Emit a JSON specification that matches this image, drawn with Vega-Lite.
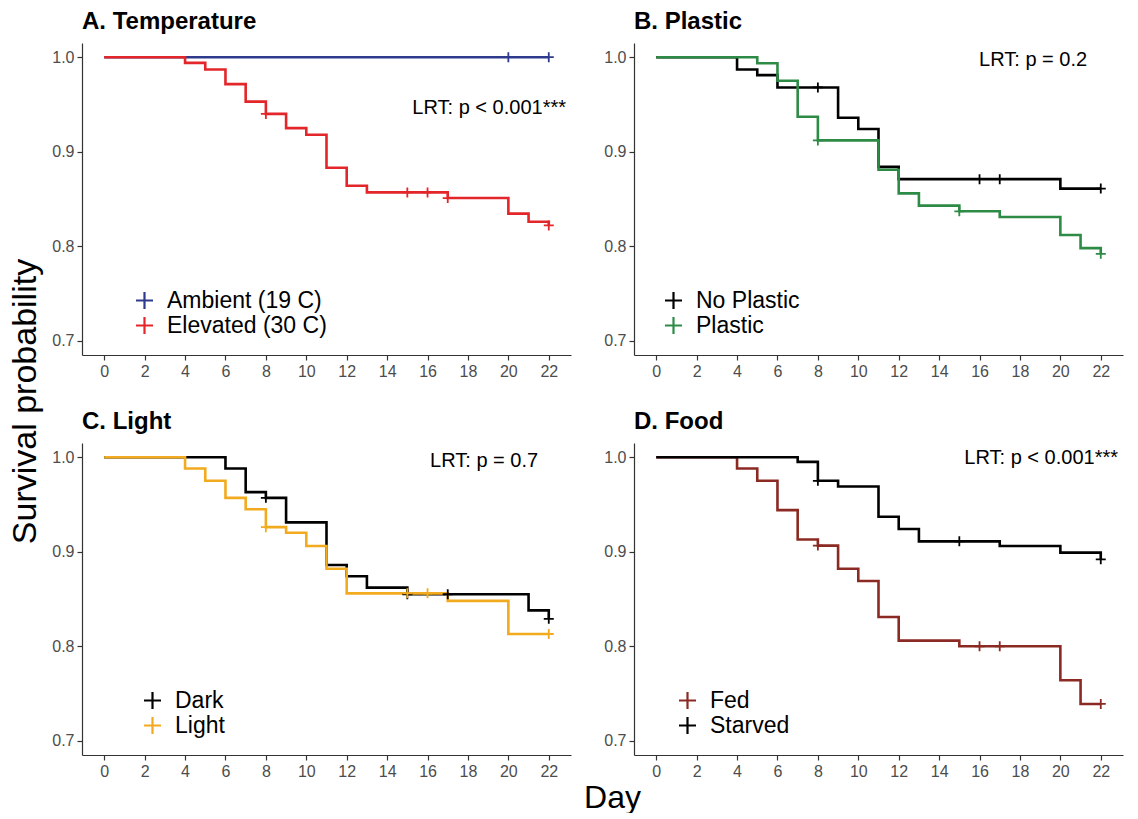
{
  "$schema": "https://vega.github.io/schema/vega-lite/v6.json",
  "padding": {"left": 8, "top": 10, "right": 5, "bottom": 0},
  "datasets": {
    "curves": [
      {"panel": "A", "group": "Ambient (19 C)", "day": 0, "surv": 1},
      {"panel": "A", "group": "Ambient (19 C)", "day": 22, "surv": 1},
      {"panel": "A", "group": "Elevated (30 C)", "day": 0, "surv": 1},
      {"panel": "A", "group": "Elevated (30 C)", "day": 4, "surv": 0.994},
      {"panel": "A", "group": "Elevated (30 C)", "day": 5, "surv": 0.987},
      {"panel": "A", "group": "Elevated (30 C)", "day": 6, "surv": 0.9715},
      {"panel": "A", "group": "Elevated (30 C)", "day": 7, "surv": 0.953},
      {"panel": "A", "group": "Elevated (30 C)", "day": 8, "surv": 0.94},
      {"panel": "A", "group": "Elevated (30 C)", "day": 9, "surv": 0.925},
      {"panel": "A", "group": "Elevated (30 C)", "day": 10, "surv": 0.918},
      {"panel": "A", "group": "Elevated (30 C)", "day": 11, "surv": 0.883},
      {"panel": "A", "group": "Elevated (30 C)", "day": 12, "surv": 0.864},
      {"panel": "A", "group": "Elevated (30 C)", "day": 13, "surv": 0.857},
      {"panel": "A", "group": "Elevated (30 C)", "day": 17, "surv": 0.851},
      {"panel": "A", "group": "Elevated (30 C)", "day": 20, "surv": 0.8345},
      {"panel": "A", "group": "Elevated (30 C)", "day": 21, "surv": 0.826},
      {"panel": "A", "group": "Elevated (30 C)", "day": 22, "surv": 0.822},
      {"panel": "B", "group": "No Plastic", "day": 0, "surv": 1},
      {"panel": "B", "group": "No Plastic", "day": 4, "surv": 0.987},
      {"panel": "B", "group": "No Plastic", "day": 5, "surv": 0.981},
      {"panel": "B", "group": "No Plastic", "day": 6, "surv": 0.968},
      {"panel": "B", "group": "No Plastic", "day": 9, "surv": 0.936},
      {"panel": "B", "group": "No Plastic", "day": 10, "surv": 0.924},
      {"panel": "B", "group": "No Plastic", "day": 11, "surv": 0.884},
      {"panel": "B", "group": "No Plastic", "day": 12, "surv": 0.871},
      {"panel": "B", "group": "No Plastic", "day": 20, "surv": 0.861},
      {"panel": "B", "group": "No Plastic", "day": 22, "surv": 0.861},
      {"panel": "B", "group": "Plastic", "day": 0, "surv": 1},
      {"panel": "B", "group": "Plastic", "day": 5, "surv": 0.9936},
      {"panel": "B", "group": "Plastic", "day": 6, "surv": 0.975},
      {"panel": "B", "group": "Plastic", "day": 7, "surv": 0.937},
      {"panel": "B", "group": "Plastic", "day": 8, "surv": 0.912},
      {"panel": "B", "group": "Plastic", "day": 11, "surv": 0.881},
      {"panel": "B", "group": "Plastic", "day": 12, "surv": 0.856},
      {"panel": "B", "group": "Plastic", "day": 13, "surv": 0.843},
      {"panel": "B", "group": "Plastic", "day": 15, "surv": 0.837},
      {"panel": "B", "group": "Plastic", "day": 17, "surv": 0.831},
      {"panel": "B", "group": "Plastic", "day": 20, "surv": 0.812},
      {"panel": "B", "group": "Plastic", "day": 21, "surv": 0.798},
      {"panel": "B", "group": "Plastic", "day": 22, "surv": 0.792},
      {"panel": "C", "group": "Dark", "day": 0, "surv": 1},
      {"panel": "C", "group": "Dark", "day": 6, "surv": 0.988},
      {"panel": "C", "group": "Dark", "day": 7, "surv": 0.963},
      {"panel": "C", "group": "Dark", "day": 8, "surv": 0.957},
      {"panel": "C", "group": "Dark", "day": 9, "surv": 0.931},
      {"panel": "C", "group": "Dark", "day": 11, "surv": 0.886},
      {"panel": "C", "group": "Dark", "day": 12, "surv": 0.874},
      {"panel": "C", "group": "Dark", "day": 13, "surv": 0.862},
      {"panel": "C", "group": "Dark", "day": 15, "surv": 0.855},
      {"panel": "C", "group": "Dark", "day": 21, "surv": 0.838},
      {"panel": "C", "group": "Dark", "day": 22, "surv": 0.829},
      {"panel": "C", "group": "Light", "day": 0, "surv": 1},
      {"panel": "C", "group": "Light", "day": 4, "surv": 0.988},
      {"panel": "C", "group": "Light", "day": 5, "surv": 0.975},
      {"panel": "C", "group": "Light", "day": 6, "surv": 0.957},
      {"panel": "C", "group": "Light", "day": 7, "surv": 0.945},
      {"panel": "C", "group": "Light", "day": 8, "surv": 0.926},
      {"panel": "C", "group": "Light", "day": 9, "surv": 0.92},
      {"panel": "C", "group": "Light", "day": 10, "surv": 0.906},
      {"panel": "C", "group": "Light", "day": 11, "surv": 0.882},
      {"panel": "C", "group": "Light", "day": 12, "surv": 0.856},
      {"panel": "C", "group": "Light", "day": 17, "surv": 0.848},
      {"panel": "C", "group": "Light", "day": 20, "surv": 0.813},
      {"panel": "C", "group": "Light", "day": 22, "surv": 0.813},
      {"panel": "D", "group": "Fed", "day": 0, "surv": 1},
      {"panel": "D", "group": "Fed", "day": 4, "surv": 0.988},
      {"panel": "D", "group": "Fed", "day": 5, "surv": 0.975},
      {"panel": "D", "group": "Fed", "day": 6, "surv": 0.944},
      {"panel": "D", "group": "Fed", "day": 7, "surv": 0.913},
      {"panel": "D", "group": "Fed", "day": 8, "surv": 0.9065},
      {"panel": "D", "group": "Fed", "day": 9, "surv": 0.882},
      {"panel": "D", "group": "Fed", "day": 10, "surv": 0.869},
      {"panel": "D", "group": "Fed", "day": 11, "surv": 0.831},
      {"panel": "D", "group": "Fed", "day": 12, "surv": 0.806},
      {"panel": "D", "group": "Fed", "day": 15, "surv": 0.8},
      {"panel": "D", "group": "Fed", "day": 20, "surv": 0.764},
      {"panel": "D", "group": "Fed", "day": 21, "surv": 0.739},
      {"panel": "D", "group": "Fed", "day": 22, "surv": 0.739},
      {"panel": "D", "group": "Starved", "day": 0, "surv": 1},
      {"panel": "D", "group": "Starved", "day": 7, "surv": 0.995},
      {"panel": "D", "group": "Starved", "day": 8, "surv": 0.975},
      {"panel": "D", "group": "Starved", "day": 9, "surv": 0.969},
      {"panel": "D", "group": "Starved", "day": 11, "surv": 0.937},
      {"panel": "D", "group": "Starved", "day": 12, "surv": 0.924},
      {"panel": "D", "group": "Starved", "day": 13, "surv": 0.911},
      {"panel": "D", "group": "Starved", "day": 17, "surv": 0.906},
      {"panel": "D", "group": "Starved", "day": 20, "surv": 0.899},
      {"panel": "D", "group": "Starved", "day": 22, "surv": 0.892}
    ],
    "censor": [
      {"panel": "A", "group": "Ambient (19 C)", "day": 20, "surv": 1},
      {"panel": "A", "group": "Ambient (19 C)", "day": 22, "surv": 1},
      {"panel": "A", "group": "Elevated (30 C)", "day": 8, "surv": 0.94},
      {"panel": "A", "group": "Elevated (30 C)", "day": 15, "surv": 0.857},
      {"panel": "A", "group": "Elevated (30 C)", "day": 16, "surv": 0.857},
      {"panel": "A", "group": "Elevated (30 C)", "day": 17, "surv": 0.851},
      {"panel": "A", "group": "Elevated (30 C)", "day": 22, "surv": 0.822},
      {"panel": "B", "group": "No Plastic", "day": 8, "surv": 0.968},
      {"panel": "B", "group": "No Plastic", "day": 16, "surv": 0.871},
      {"panel": "B", "group": "No Plastic", "day": 17, "surv": 0.871},
      {"panel": "B", "group": "No Plastic", "day": 22, "surv": 0.861},
      {"panel": "B", "group": "Plastic", "day": 8, "surv": 0.912},
      {"panel": "B", "group": "Plastic", "day": 15, "surv": 0.837},
      {"panel": "B", "group": "Plastic", "day": 22, "surv": 0.792},
      {"panel": "C", "group": "Dark", "day": 8, "surv": 0.957},
      {"panel": "C", "group": "Dark", "day": 15, "surv": 0.855},
      {"panel": "C", "group": "Dark", "day": 17, "surv": 0.855},
      {"panel": "C", "group": "Dark", "day": 22, "surv": 0.829},
      {"panel": "C", "group": "Light", "day": 8, "surv": 0.926},
      {"panel": "C", "group": "Light", "day": 15, "surv": 0.856},
      {"panel": "C", "group": "Light", "day": 16, "surv": 0.856},
      {"panel": "C", "group": "Light", "day": 22, "surv": 0.813},
      {"panel": "D", "group": "Fed", "day": 8, "surv": 0.9065},
      {"panel": "D", "group": "Fed", "day": 16, "surv": 0.8},
      {"panel": "D", "group": "Fed", "day": 17, "surv": 0.8},
      {"panel": "D", "group": "Fed", "day": 22, "surv": 0.739},
      {"panel": "D", "group": "Starved", "day": 8, "surv": 0.975},
      {"panel": "D", "group": "Starved", "day": 15, "surv": 0.911},
      {"panel": "D", "group": "Starved", "day": 22, "surv": 0.892}
    ],
    "notes": [
      {"panel": "A", "label": "LRT: p < 0.001***", "day": 19.05, "surv": 0.9465},
      {"panel": "B", "label": "LRT: p = 0.2", "day": 18.65, "surv": 0.997},
      {"panel": "C", "label": "LRT: p = 0.7", "day": 18.8, "surv": 0.996},
      {"panel": "D", "label": "LRT: p < 0.001***", "day": 19.05, "surv": 0.999}
    ]
  },
  "bounds": "flush",
  "columns": 2,
  "spacing": {"row": 88, "column": 63},
  "resolve": {"scale": {"color": "independent"}, "legend": {"color": "independent"}},
  "concat": [
    {
      "width": 489, "height": 312,
      "title": {"text": "A. Temperature"},
      "encoding": {
        "x": {"field": "day", "type": "quantitative", "scale": {"domain": [-1.1, 23.1], "nice": false, "zero": false}, "axis": {"values": [0, 2, 4, 6, 8, 10, 12, 14, 16, 18, 20, 22], "title": null}},
        "y": {"field": "surv", "type": "quantitative", "scale": {"domain": [0.685, 1.015], "nice": false, "zero": false}, "axis": {"values": [0.7, 0.8, 0.9, 1.0], "format": ".1f", "title": "Survival probability", "titleFontSize": 34, "titleFontWeight": "normal", "titleColor": "#000000", "titleAngle": 270, "titleBaseline": "bottom", "titleAlign": "center", "titleX": -40, "titleY": 358}},
        "color": {"field": "group", "type": "nominal", "scale": {"domain": ["Ambient (19 C)", "Elevated (30 C)"], "range": ["#2E3A8C", "#E3262A"]}, "legend": {"legendX": 51, "legendY": 246}}
      },
      "layer": [
        {"data": {"name": "curves"}, "transform": [{"filter": "datum.panel === 'A'"}], "mark": {"type": "line", "interpolate": "step-after", "strokeWidth": 2.6}},
        {"data": {"name": "censor"}, "transform": [{"filter": "datum.panel === 'A'"}], "mark": {"type": "point", "shape": "M-1,0H1M0,-1V1", "filled": false, "size": 100, "strokeWidth": 1.8, "opacity": 1}},
        {"data": {"name": "notes"}, "transform": [{"filter": "datum.panel === 'A'"}], "mark": {"type": "text", "fontSize": 20, "align": "center", "baseline": "middle", "color": "#000000"}, "encoding": {"text": {"field": "label"}, "color": {"value": "#000000"}}}
      ]
    },
    {
      "width": 489, "height": 312,
      "title": {"text": "B. Plastic"},
      "encoding": {
        "x": {"field": "day", "type": "quantitative", "scale": {"domain": [-1.1, 23.1], "nice": false, "zero": false}, "axis": {"values": [0, 2, 4, 6, 8, 10, 12, 14, 16, 18, 20, 22], "title": null}},
        "y": {"field": "surv", "type": "quantitative", "scale": {"domain": [0.685, 1.015], "nice": false, "zero": false}, "axis": {"values": [0.7, 0.8, 0.9, 1.0], "format": ".1f", "title": null}},
        "color": {"field": "group", "type": "nominal", "scale": {"domain": ["No Plastic", "Plastic"], "range": ["#000000", "#2E8B46"]}, "legend": {"legendX": 28, "legendY": 246}}
      },
      "layer": [
        {"data": {"name": "curves"}, "transform": [{"filter": "datum.panel === 'B'"}], "mark": {"type": "line", "interpolate": "step-after", "strokeWidth": 2.6}},
        {"data": {"name": "censor"}, "transform": [{"filter": "datum.panel === 'B'"}], "mark": {"type": "point", "shape": "M-1,0H1M0,-1V1", "filled": false, "size": 100, "strokeWidth": 1.8, "opacity": 1}},
        {"data": {"name": "notes"}, "transform": [{"filter": "datum.panel === 'B'"}], "mark": {"type": "text", "fontSize": 20, "align": "center", "baseline": "middle", "color": "#000000"}, "encoding": {"text": {"field": "label"}, "color": {"value": "#000000"}}}
      ]
    },
    {
      "width": 489, "height": 312,
      "title": {"text": "C. Light"},
      "encoding": {
        "x": {"field": "day", "type": "quantitative", "scale": {"domain": [-1.1, 23.1], "nice": false, "zero": false}, "axis": {"values": [0, 2, 4, 6, 8, 10, 12, 14, 16, 18, 20, 22], "title": "Day", "titleFontSize": 32, "titleFontWeight": "normal", "titleColor": "#000000", "titleBaseline": "alphabetic", "titleAlign": "center", "titleX": 530, "titleY": 52}},
        "y": {"field": "surv", "type": "quantitative", "scale": {"domain": [0.685, 1.015], "nice": false, "zero": false}, "axis": {"values": [0.7, 0.8, 0.9, 1.0], "format": ".1f", "title": null}},
        "color": {"field": "group", "type": "nominal", "scale": {"domain": ["Dark", "Light"], "range": ["#000000", "#F2AA1F"]}, "legend": {"legendX": 59, "legendY": 246}}
      },
      "layer": [
        {"data": {"name": "curves"}, "transform": [{"filter": "datum.panel === 'C'"}], "mark": {"type": "line", "interpolate": "step-after", "strokeWidth": 2.6}},
        {"data": {"name": "censor"}, "transform": [{"filter": "datum.panel === 'C'"}], "mark": {"type": "point", "shape": "M-1,0H1M0,-1V1", "filled": false, "size": 100, "strokeWidth": 1.8, "opacity": 1}},
        {"data": {"name": "notes"}, "transform": [{"filter": "datum.panel === 'C'"}], "mark": {"type": "text", "fontSize": 20, "align": "center", "baseline": "middle", "color": "#000000"}, "encoding": {"text": {"field": "label"}, "color": {"value": "#000000"}}}
      ]
    },
    {
      "width": 489, "height": 312,
      "title": {"text": "D. Food"},
      "encoding": {
        "x": {"field": "day", "type": "quantitative", "scale": {"domain": [-1.1, 23.1], "nice": false, "zero": false}, "axis": {"values": [0, 2, 4, 6, 8, 10, 12, 14, 16, 18, 20, 22], "title": null}},
        "y": {"field": "surv", "type": "quantitative", "scale": {"domain": [0.685, 1.015], "nice": false, "zero": false}, "axis": {"values": [0.7, 0.8, 0.9, 1.0], "format": ".1f", "title": null}},
        "color": {"field": "group", "type": "nominal", "scale": {"domain": ["Fed", "Starved"], "range": ["#8B2A22", "#000000"]}, "legend": {"legendX": 42, "legendY": 246}}
      },
      "layer": [
        {"data": {"name": "curves"}, "transform": [{"filter": "datum.panel === 'D'"}], "mark": {"type": "line", "interpolate": "step-after", "strokeWidth": 2.6}},
        {"data": {"name": "censor"}, "transform": [{"filter": "datum.panel === 'D'"}], "mark": {"type": "point", "shape": "M-1,0H1M0,-1V1", "filled": false, "size": 100, "strokeWidth": 1.8, "opacity": 1}},
        {"data": {"name": "notes"}, "transform": [{"filter": "datum.panel === 'D'"}], "mark": {"type": "text", "fontSize": 20, "align": "center", "baseline": "middle", "color": "#000000"}, "encoding": {"text": {"field": "label"}, "color": {"value": "#000000"}}}
      ]
    }
  ],
  "config": {
    "font": "Liberation Sans",
    "view": {"stroke": null},
    "axis": {"grid": false, "domainColor": "#333333", "domainWidth": 1.2, "tickColor": "#333333", "tickWidth": 1.2, "tickSize": 5, "labelColor": "#4D4D4D", "labelFontSize": 16, "labelPadding": 3, "labelFlush": false, "labelFont": "Liberation Sans", "titleFont": "Liberation Sans"},
    "legend": {"orient": "none", "title": null, "symbolType": "M-1,0H1M0,-1V1", "symbolSize": 289, "symbolStrokeWidth": 2.2, "labelFontSize": 23, "labelColor": "#000000", "labelFont": "Liberation Sans", "rowPadding": -10, "labelOffset": 11, "padding": 0},
    "title": {"anchor": "start", "frame": "group", "fontSize": 24, "fontWeight": "bold", "color": "#000000", "font": "Liberation Sans", "offset": 9}
  }
}
